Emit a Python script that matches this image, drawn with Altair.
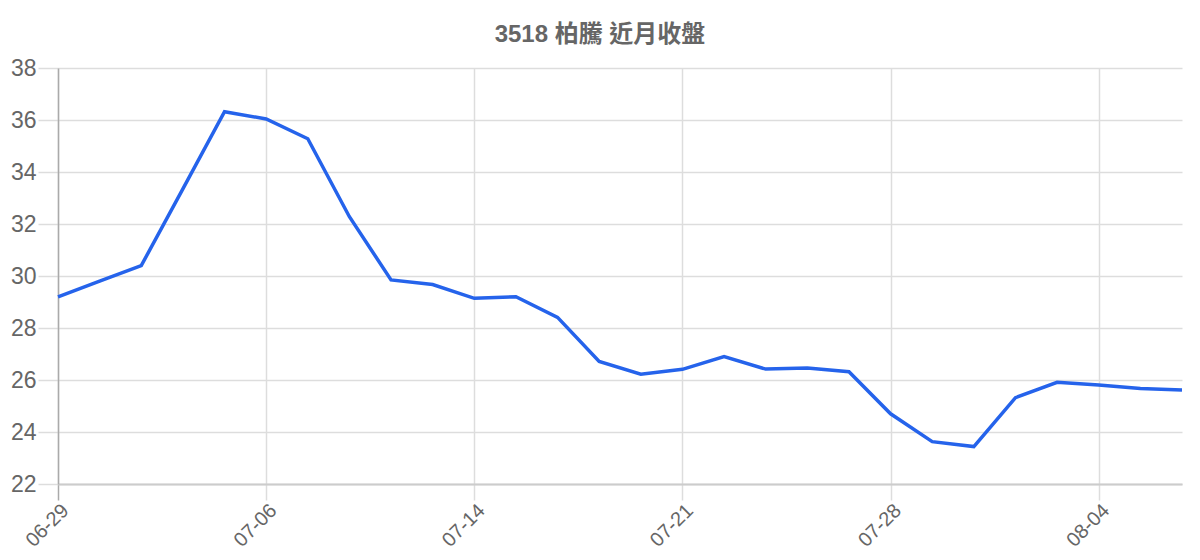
import altair as alt
import pandas as pd

dates = ["06-29", "06-30", "07-01", "07-02", "07-03", "07-06", "07-07", "07-08",
         "07-09", "07-13", "07-14", "07-15", "07-16", "07-17", "07-20", "07-21",
         "07-22", "07-23", "07-24", "07-27", "07-28", "07-29", "07-30", "07-31",
         "08-03", "08-04", "08-05", "08-06"]
closes = [29.2, 29.8, 30.4, 33.35, 36.32, 36.04, 35.28, 32.28,
          29.85, 29.67, 29.14, 29.2, 28.41, 26.71, 26.22, 26.41,
          26.9, 26.42, 26.46, 26.32, 24.7, 23.63, 23.44, 25.32,
          25.91, 25.81, 25.67, 25.62]
tick_dates = ["06-29", "07-06", "07-14", "07-21", "07-28", "08-04"]
y_ticks = [22, 24, 26, 28, 30, 32, 34, 36, 38]
title_text = "3518 柏騰 近月收盤"

df = pd.DataFrame({"date": dates, "close": closes})

FONT = "Liberation Sans, Arial, Noto Sans CJK TC, sans-serif"

x_tick_color = {"condition": {"test": "datum.value === '06-29'", "value": "#aaaaaa"},
                "value": "#dddddd"}

chart = alt.Chart(df).mark_line(color="#2563eb", strokeWidth=3.5).encode(
    x=alt.X("date:O", sort=None, title=None,
            scale=alt.Scale(type="point", padding=0),
            axis=alt.Axis(values=tick_dates, labelAngle=-45, labelAlign="right",
                          labelBaseline="top", labelPadding=0,
                          grid=True, gridColor="#dddddd", gridWidth=1.5,
                          tickColor=x_tick_color, tickSize=16, tickWidth=1.5,
                          domainColor="#cccccc", domainWidth=2,
                          labelFontSize=20, labelColor="#666666", labelFont=FONT)),
    y=alt.Y("close:Q", title=None,
            scale=alt.Scale(domain=[22, 38], nice=False, zero=False),
            axis=alt.Axis(values=y_ticks, grid=True, gridColor="#dddddd", gridWidth=1.5,
                          tickColor="#dddddd", tickSize=20, tickWidth=1.5,
                          domainColor="#aaaaaa", domainWidth=1.5,
                          labelPadding=2, labelFontSize=23, labelColor="#666666",
                          labelFont=FONT)),
).properties(
    width=1124, height=416,
    title=alt.TitleParams(title_text, fontSize=24, fontWeight="bold", color="#666666",
                          font=FONT, anchor="middle", dx=-20, offset=10),
    autosize=alt.AutoSizeParams(type="none"),
    padding={"left": 50, "top": 60, "right": 10, "bottom": 68},
).configure_view(stroke=None)

chart.save("out.html", embed_options={"renderer": "svg", "actions": False})
